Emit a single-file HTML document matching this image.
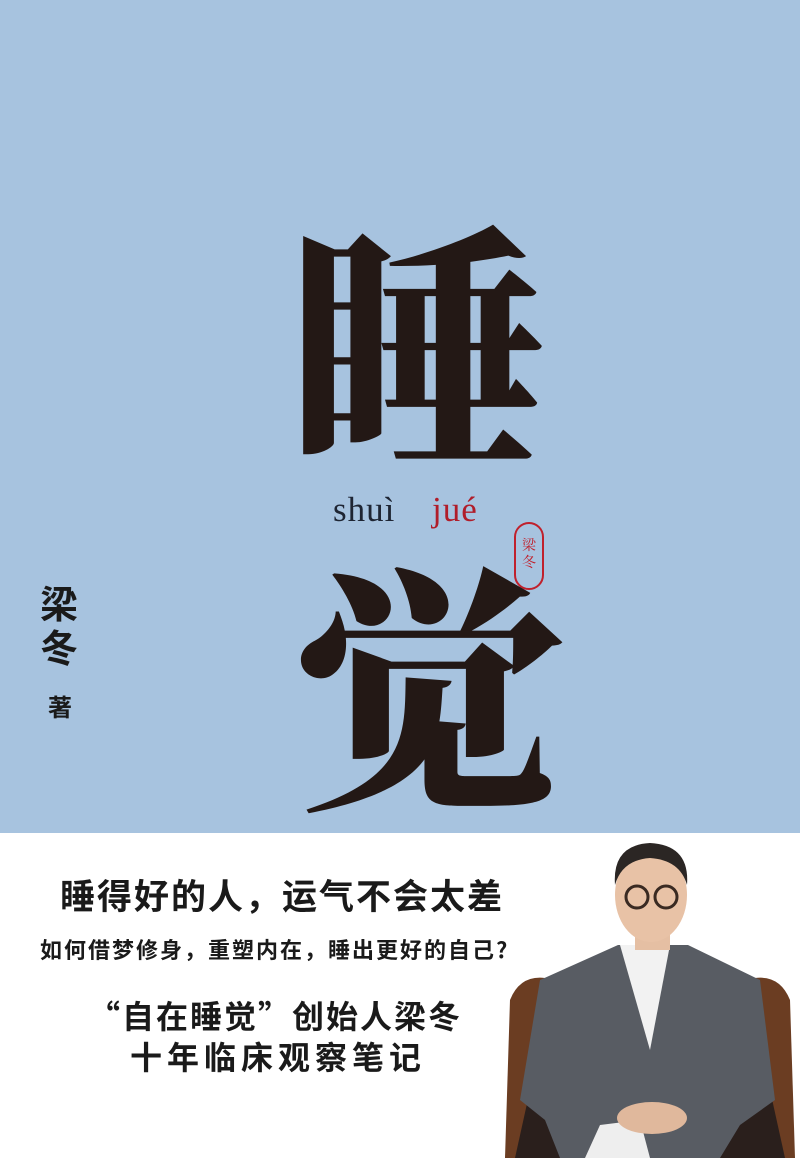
<!DOCTYPE html>
<html><head><meta charset="utf-8">
<style>
html,body{margin:0;padding:0}
body{width:800px;height:1158px;position:relative;overflow:hidden;background:#fff;font-family:"Liberation Sans","Noto Sans CJK SC",sans-serif}
.blue{position:absolute;left:0;top:0;width:800px;height:833px;background:#a7c3df}
.big{position:absolute;font-family:"Noto Serif CJK SC","WenQuanYi Zen Hei",serif;font-weight:900;color:#231815;line-height:1;font-size:258px}
.abs{position:absolute}
.t{position:absolute;color:#1a1a1a;font-weight:bold;white-space:nowrap;font-family:"Noto Sans CJK SC","Liberation Sans",sans-serif;line-height:1}
</style></head><body>
<div class="blue"></div>
<div class="big" style="left:289px;top:205px">睡</div>
<div class="abs" style="left:333px;top:490px;font-family:'Liberation Serif',serif;font-size:35px;color:#1e2533;letter-spacing:1px">shuì</div>
<div class="abs" style="left:432px;top:490px;font-family:'Liberation Serif',serif;font-size:35px;color:#b01d2a;letter-spacing:1px">jué</div>
<div class="abs" style="left:514px;top:522px;width:30px;height:68px;border:2px solid #c0202c;border-radius:15px;color:#c0202c;font-size:14px;line-height:17px;text-align:center;box-sizing:border-box;padding-top:13px;font-family:'Noto Serif CJK SC',serif">梁<br>冬</div>
<div class="big" style="left:300px;top:548px;transform:scaleX(1.03)">觉</div>
<div class="t" style="left:40px;top:580px;font-size:38px;line-height:44px">梁<br>冬</div>
<div class="t" style="left:48px;top:694px;font-size:24px">著</div>
<div class="t" style="left:60px;top:877px;font-size:35px;letter-spacing:2px">睡得好的人，运气不会太差</div>
<div class="t" style="left:40px;top:938px;font-size:22px;letter-spacing:2px">如何借梦修身，重塑内在，睡出更好的自己?</div>
<div class="t" style="left:88px;top:999px;font-size:32px;letter-spacing:2px">“自在睡觉”创始人梁冬</div>
<div class="t" style="left:130px;top:1040px;font-size:32px;letter-spacing:5px">十年临床观察笔记</div>
<svg class="abs" style="left:0;top:0" width="800" height="1158">
 <path d="M510 1000 Q520 975 545 978 L560 1060 L520 1158 L505 1158 Z" fill="#6b3d22"/>
 <path d="M790 1000 Q780 975 755 978 L740 1060 L780 1158 L795 1158 Z" fill="#6b3d22"/>
 <path d="M530 1090 L770 1090 L785 1158 L515 1158 Z" fill="#2a1f1c"/>
 <path d="M618 945 L688 945 L760 980 L775 1100 L740 1125 L720 1158 L560 1158 L545 1120 L520 1100 L540 980 Z" fill="#585c63"/>
 <path d="M620 945 L670 945 L650 1050 Z" fill="#f2f2f2"/>
 <path d="M600 1125 L640 1120 L650 1158 L585 1158 Z" fill="#eee"/>
 <ellipse cx="652" cy="1118" rx="35" ry="16" fill="#e0b89c"/>
 <rect x="635" y="925" width="35" height="25" fill="#e5bfa3"/>
 <ellipse cx="651" cy="895" rx="36" ry="47" fill="#e8c2a6"/>
 <path d="M615 885 Q612 845 650 843 Q690 845 687 885 Q680 860 650 858 Q622 860 615 885 Z" fill="#2b2624"/>
 <circle cx="637" cy="897" r="11" fill="none" stroke="#3a2a22" stroke-width="3"/>
 <circle cx="666" cy="897" r="11" fill="none" stroke="#3a2a22" stroke-width="3"/>
</svg>
</body></html>
